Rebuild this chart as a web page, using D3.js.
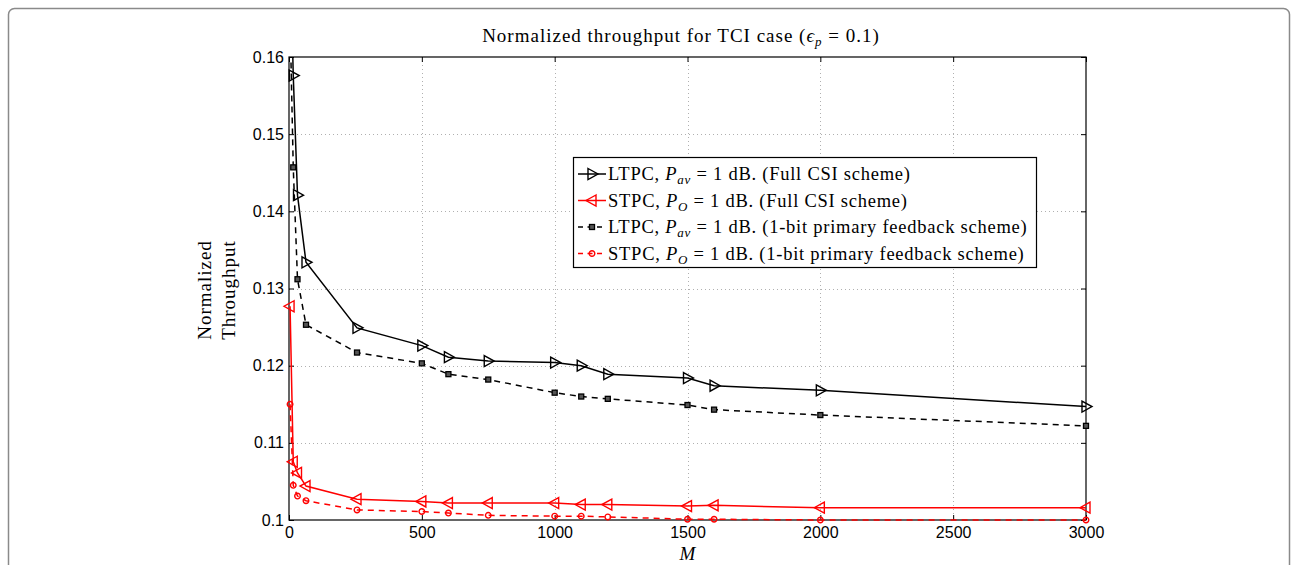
<!DOCTYPE html>
<html>
<head>
<meta charset="utf-8">
<script src="https://cdn.jsdelivr.net/npm/d3@7"></script>
<style>
  body { margin: 0; background: #fff; }
  svg { display: block; }
  .tick text { font-family: "Liberation Sans", Arial, sans-serif; font-size: 16px; fill: #000; }
  .serif { font-family: "Liberation Serif", "DejaVu Serif", serif; fill: #000; }
</style>
</head>
<body>
<div id="chart"></div>
<script>
// ---------------------------- DATA ----------------------------//
const mValues = [4, 16, 32, 64, 256, 500, 600, 750, 1000, 1100, 1200, 1500, 1600, 2000, 3000];

// LTPC, full CSI (first point is above the axis top and gets clipped)
const ltpcFull = [0.175, 0.1576, 0.1421, 0.1334, 0.1249, 0.1226, 0.1211, 0.1206, 0.1204, 0.1200, 0.1189, 0.1184, 0.1174, 0.1168, 0.1147];
// STPC, full CSI
const stpcFull = [0.1277, 0.10755, 0.1061, 0.1044, 0.1027, 0.1024, 0.1022, 0.1022, 0.1022, 0.1020, 0.1020, 0.1018, 0.1019, 0.1016, 0.1016];
// LTPC, 1-bit primary feedback
const ltpcBit = [0.165, 0.1457, 0.1312, 0.1253, 0.1217, 0.1203, 0.1189, 0.1182, 0.1165, 0.1160, 0.1157, 0.1149, 0.1143, 0.1136, 0.1122];
// STPC, 1-bit primary feedback
const stpcBit = [0.1150, 0.1045, 0.1031, 0.1025, 0.1013, 0.1011, 0.1009, 0.1006, 0.1005, 0.1005, 0.1004, 0.1001, 0.1001, 0.1000, 0.1000];

const xTicks = [0, 500, 1000, 1500, 2000, 2500, 3000];
const yTicks = [0.10, 0.11, 0.12, 0.13, 0.14, 0.15, 0.16];

const series = [
  { key: "ltpcFull", values: ltpcFull, color: "#000", dash: null, marker: "triR",
    label: [["LTPC, "], ["P", "i"], ["av", "sub"], [" = 1 dB. (Full CSI scheme)", "up"]] },
  { key: "stpcFull", values: stpcFull, color: "#f00", dash: null, marker: "triL",
    label: [["STPC, "], ["P", "i"], ["O", "sub"], [" = 1 dB. (Full CSI scheme)", "up"]] },
  { key: "ltpcBit", values: ltpcBit, color: "#000", dash: "6,5", marker: "square",
    label: [["LTPC, "], ["P", "i"], ["av", "sub"], [" = 1 dB. (1-bit primary feedback scheme)", "up"]] },
  { key: "stpcBit", values: stpcBit, color: "#f00", dash: "6,5", marker: "circle",
    label: [["STPC, "], ["P", "i"], ["O", "sub"], [" = 1 dB. (1-bit primary feedback scheme)", "up"]] }
];

//---------------------------- SVG -----------------------------//
const width = 1292;
const height = 565;
const plot = { left: 289, right: 1086, top: 57, bottom: 520 };

const svg = d3.select("#chart").append("svg")
  .attr("width", width)
  .attr("height", height);

// outer frame
svg.append("rect")
  .attr("x", 8.5).attr("y", 8.5)
  .attr("width", 1281).attr("height", 600)
  .attr("rx", 6)
  .attr("fill", "none")
  .attr("stroke", "#8a8a8a")
  .attr("stroke-width", 1.5);

//--------------------------- SCALES ---------------------------//
const x = d3.scaleLinear().domain([0, 3000]).range([plot.left, plot.right]);
const y = d3.scaleLinear().domain([0.10, 0.16]).range([plot.bottom, plot.top]);

//---------------------------- GRID ----------------------------//
const grid = svg.append("g").attr("stroke", "#b0b0b0").attr("stroke-dasharray", "1,3").attr("stroke-width", 1);
grid.selectAll(".gx").data(xTicks.slice(1, -1)).enter().append("line")
  .attr("x1", d => Math.round(x(d)) + 0.5).attr("x2", d => Math.round(x(d)) + 0.5)
  .attr("y1", plot.top).attr("y2", plot.bottom);
grid.selectAll(".gy").data(yTicks.slice(1, -1)).enter().append("line")
  .attr("y1", d => Math.round(y(d)) + 0.5).attr("y2", d => Math.round(y(d)) + 0.5)
  .attr("x1", plot.left).attr("x2", plot.right);

//---------------------------- AXES ----------------------------//
const xAxis = d3.axisBottom(x).tickValues(xTicks).tickFormat(d3.format("d")).tickSizeInner(-5).tickSizeOuter(0).tickPadding(7);
const yAxis = d3.axisLeft(y).tickValues(yTicks).tickFormat(d => d === 0.1 ? "0.1" : d3.format(".2f")(d)).tickSizeInner(-5).tickSizeOuter(0).tickPadding(5);
const xAxisTop = d3.axisTop(x).tickValues(xTicks).tickFormat("").tickSizeInner(-5).tickSizeOuter(0);
const yAxisRight = d3.axisRight(y).tickValues(yTicks).tickFormat("").tickSizeInner(-5).tickSizeOuter(0);

svg.append("g").attr("class", "axis").attr("transform", "translate(0," + plot.bottom + ")").call(xAxis);
svg.append("g").attr("class", "axis").attr("transform", "translate(" + plot.left + ",0)").call(yAxis);
svg.append("g").attr("class", "axis").attr("transform", "translate(0," + plot.top + ")").call(xAxisTop);
svg.append("g").attr("class", "axis").attr("transform", "translate(" + plot.right + ",0)").call(yAxisRight);
svg.selectAll(".axis .domain").remove();
svg.selectAll(".axis line").attr("stroke", "#000");

svg.append("rect")
  .attr("x", plot.left).attr("y", plot.top)
  .attr("width", plot.right - plot.left).attr("height", plot.bottom - plot.top)
  .attr("fill", "none").attr("stroke", "#000").attr("stroke-width", 1.2);

//---------------------------- LINES ---------------------------//
// lines are clipped at the top only; markers are drawn unclipped (as MATLAB does)
svg.append("clipPath").attr("id", "clip").append("rect")
  .attr("x", plot.left - 10).attr("y", plot.top)
  .attr("width", plot.right - plot.left + 20).attr("height", plot.bottom - plot.top + 10);

const line = d3.line().x(d => x(d.m)).y(d => y(d.v));

function drawMarker(g, type, color) {
  if (type === "triR") {
    g.append("path").attr("d", "M-4,-5.5L6,0L-4,5.5Z").attr("fill", "none").attr("stroke", color).attr("stroke-width", 1.4);
  } else if (type === "triL") {
    g.append("path").attr("d", "M4,-5.5L-6,0L4,5.5Z").attr("fill", "none").attr("stroke", color).attr("stroke-width", 1.4);
  } else if (type === "square") {
    g.append("rect").attr("x", -2.5).attr("y", -2.5).attr("width", 5).attr("height", 5)
      .attr("fill", "#555").attr("stroke", color).attr("stroke-width", 1.3);
  } else {
    g.append("circle").attr("r", 2.8).attr("fill", "none").attr("stroke", color).attr("stroke-width", 1.4);
  }
}

const lineLayer = svg.append("g").attr("clip-path", "url(#clip)");
const markLayer = svg.append("g");
series.forEach(s => {
  const pts = mValues.map((m, i) => ({ m: m, v: s.values[i] }));
  lineLayer.append("path")
    .attr("d", line(pts))
    .attr("fill", "none")
    .attr("stroke", s.color)
    .attr("stroke-width", 1.5)
    .attr("stroke-dasharray", s.dash);
  pts.filter(p => p.v <= 0.16).forEach(p => {
    const g = markLayer.append("g").attr("transform", "translate(" + x(p.m) + "," + y(p.v) + ")");
    drawMarker(g, s.marker, s.color);
  });
});

//---------------------------- TEXT ----------------------------//
const title = svg.append("text").attr("class", "serif")
  .attr("x", 681).attr("y", 42)
  .attr("text-anchor", "middle").style("font-size", "19px").style("letter-spacing", "1px");
title.append("tspan").text("Normalized throughput for TCI case (");
title.append("tspan").style("font-style", "italic").text("ϵ");
title.append("tspan").style("font-style", "italic").style("font-size", "13px").attr("dy", 4).text("p");
title.append("tspan").attr("dy", -4).text(" = 0.1)");

svg.append("text").attr("class", "serif")
  .attr("x", (plot.left + plot.right) / 2).attr("y", 560)
  .attr("text-anchor", "middle").style("font-size", "19px").style("font-style", "italic")
  .text("M");

const ylab = svg.append("g").attr("transform", "translate(211,290) rotate(-90)");
ylab.append("text").attr("class", "serif").attr("text-anchor", "middle").attr("y", 0)
  .style("font-size", "19px").style("letter-spacing", "1px").text("Normalized");
ylab.append("text").attr("class", "serif").attr("text-anchor", "middle").attr("y", 24)
  .style("font-size", "19px").style("letter-spacing", "1px").text("Throughput");

//--------------------------- LEGEND ---------------------------//
const legend = svg.append("g");
legend.append("rect")
  .attr("x", 573.5).attr("y", 157.5).attr("width", 463).attr("height", 110)
  .attr("fill", "#fff").attr("stroke", "#000").attr("stroke-width", 1.2);

series.forEach((s, i) => {
  const ly = 174 + i * 26.5;
  const row = legend.append("g");
  row.append("line")
    .attr("x1", 578).attr("x2", 606).attr("y1", ly).attr("y2", ly)
    .attr("stroke", s.color).attr("stroke-width", 1.5)
    .attr("stroke-dasharray", s.dash ? "5,4.5" : null);
  drawMarker(row.append("g").attr("transform", "translate(592," + ly + ")"), s.marker, s.color);
  const t = row.append("text").attr("class", "serif")
    .attr("x", 608).attr("y", ly + 6).style("font-size", "18.5px").style("letter-spacing", "0.75px");
  s.label.forEach(part => {
    const sp = t.append("tspan").text(part[0]);
    if (part[1] === "i") sp.style("font-style", "italic");
    if (part[1] === "sub") sp.style("font-style", "italic").style("font-size", "13px").attr("dy", 4);
    if (part[1] === "up") sp.attr("dy", -4);
  });
});
</script>
</body>
</html>
